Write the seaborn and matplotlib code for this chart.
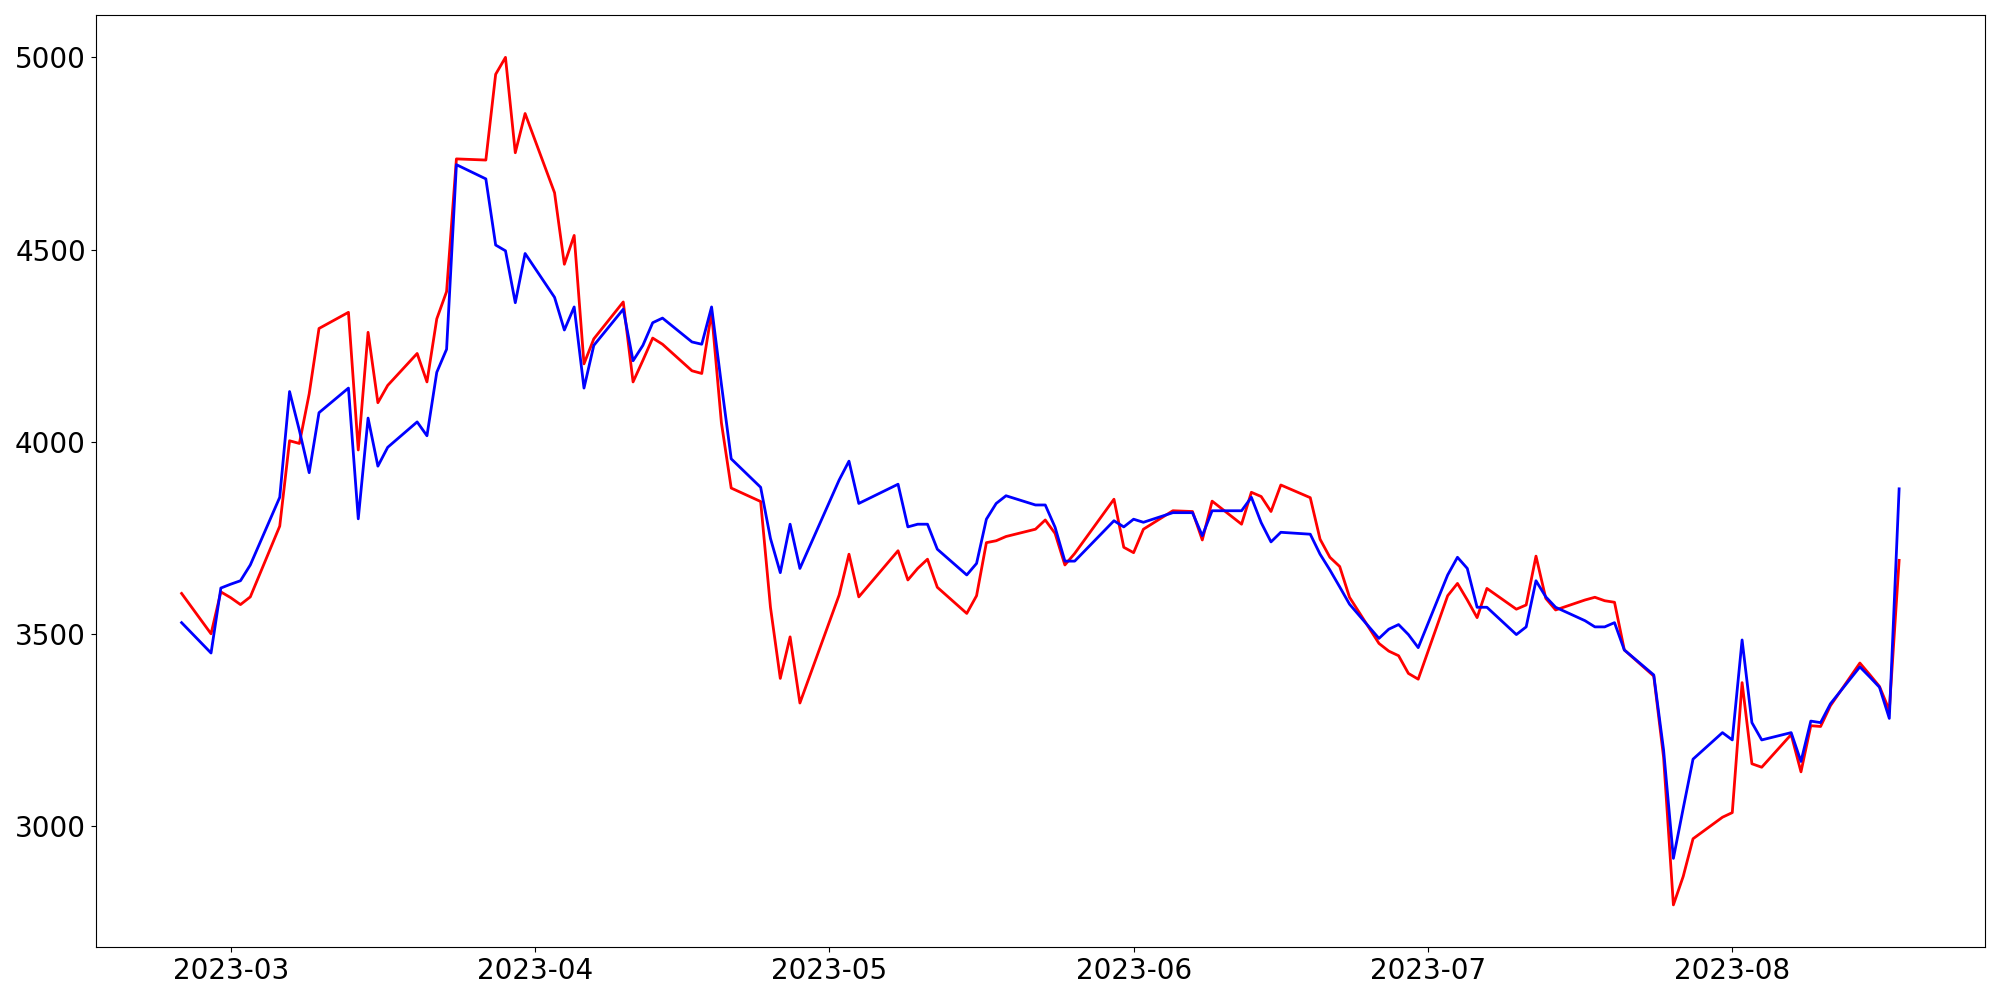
# Imports
import pandas as pd
import matplotlib
matplotlib.use('Agg')
import matplotlib.pyplot as plt
import seaborn as sns

# Data
dates = [
    '2023-02-24', '2023-02-27', '2023-02-28', '2023-03-01', '2023-03-02', '2023-03-03',
    '2023-03-06', '2023-03-07', '2023-03-08', '2023-03-09', '2023-03-10',
    '2023-03-13', '2023-03-14', '2023-03-15', '2023-03-16', '2023-03-17',
    '2023-03-20', '2023-03-21', '2023-03-22', '2023-03-23', '2023-03-24',
    '2023-03-27', '2023-03-28', '2023-03-29', '2023-03-30', '2023-03-31',
    '2023-04-03', '2023-04-04', '2023-04-05', '2023-04-06', '2023-04-07',
    '2023-04-10', '2023-04-11', '2023-04-12', '2023-04-13', '2023-04-14',
    '2023-04-17', '2023-04-18', '2023-04-19', '2023-04-20', '2023-04-21',
    '2023-04-24', '2023-04-25', '2023-04-26', '2023-04-27', '2023-04-28',
    '2023-05-02', '2023-05-03', '2023-05-04',
    '2023-05-08', '2023-05-09', '2023-05-10', '2023-05-11', '2023-05-12',
    '2023-05-15', '2023-05-16', '2023-05-17', '2023-05-18', '2023-05-19',
    '2023-05-22', '2023-05-23', '2023-05-24', '2023-05-25', '2023-05-26',
    '2023-05-30', '2023-05-31', '2023-06-01', '2023-06-02',
    '2023-06-05', '2023-06-06', '2023-06-07', '2023-06-08', '2023-06-09',
    '2023-06-12', '2023-06-13', '2023-06-14', '2023-06-15', '2023-06-16',
    '2023-06-19', '2023-06-20', '2023-06-21', '2023-06-22', '2023-06-23',
    '2023-06-26', '2023-06-27', '2023-06-28', '2023-06-29', '2023-06-30',
    '2023-07-03', '2023-07-04', '2023-07-05', '2023-07-06', '2023-07-07',
    '2023-07-10', '2023-07-11', '2023-07-12', '2023-07-13', '2023-07-14',
    '2023-07-17', '2023-07-18', '2023-07-19', '2023-07-20', '2023-07-21',
    '2023-07-24', '2023-07-25', '2023-07-26', '2023-07-27', '2023-07-28',
    '2023-07-31', '2023-08-01', '2023-08-02', '2023-08-03', '2023-08-04',
    '2023-08-07', '2023-08-08', '2023-08-09', '2023-08-10', '2023-08-11',
    '2023-08-14', '2023-08-15', '2023-08-16', '2023-08-17', '2023-08-18',
]

red_values = [
    3606, 3501, 3610, 3595, 3577, 3597,
    3781, 4003, 3996, 4125, 4295,
    4337, 3979, 4285, 4102, 4147,
    4230, 4156, 4320, 4391, 4736,
    4733, 4956, 5000, 4752, 4854,
    4648, 4462, 4537, 4203, 4268,
    4364, 4156, 4212, 4270, 4254,
    4185, 4178, 4337, 4050, 3880,
    3845, 3570, 3385, 3493, 3321,
    3602, 3708, 3597,
    3717, 3641, 3671, 3695, 3622,
    3554, 3600, 3738, 3743, 3754,
    3773, 3797, 3762, 3680, 3710,
    3851, 3726, 3712, 3773,
    3821, 3820, 3819, 3745, 3846,
    3786, 3869, 3858, 3819, 3888,
    3855, 3747, 3700, 3676, 3596,
    3476, 3456, 3444, 3398, 3383,
    3600, 3632, 3589, 3543, 3619,
    3565, 3576, 3703, 3593, 3563,
    3589, 3596, 3587, 3583, 3459,
    3391, 3180, 2796, 2870, 2968,
    3024, 3036, 3374, 3163, 3154,
    3239, 3142, 3262, 3260, 3314,
    3425, 3395, 3364, 3302, 3692,
]

blue_values = [
    3530, 3451, 3620, 3630, 3639, 3680,
    3856, 4131, 4030, 3920, 4076,
    4140, 3800, 4062, 3937, 3986,
    4052, 4016, 4181, 4241, 4721,
    4684, 4512, 4497, 4362, 4490,
    4376, 4291, 4351, 4140, 4251,
    4345, 4211, 4251, 4310, 4322,
    4260, 4254, 4351, 4150, 3956,
    3882, 3749, 3660, 3786, 3671,
    3901, 3950, 3840,
    3890, 3779, 3786, 3786, 3721,
    3654, 3684, 3799, 3840, 3860,
    3836, 3836, 3778, 3690, 3690,
    3795, 3779, 3799, 3791,
    3816, 3816, 3816, 3756, 3821,
    3821, 3856, 3790, 3740, 3765,
    3760, 3708, 3667, 3623, 3578,
    3489, 3513, 3525, 3499, 3465,
    3654, 3700, 3671, 3570, 3570,
    3499, 3519, 3639, 3597, 3570,
    3535, 3519, 3519, 3530, 3459,
    3394, 3199, 2917, 3047, 3175,
    3244, 3225, 3485, 3270, 3225,
    3244, 3169, 3274, 3270, 3319,
    3415, 3389, 3362, 3281, 3878,
]

df = pd.DataFrame({'Date': pd.to_datetime(dates), 'Red': red_values, 'Blue': blue_values})

# Plot both series
plt.figure(figsize=(20, 10))
sns.lineplot(x=df['Date'].values, y=df['Red'].values, color='red', linewidth=2)
sns.lineplot(x=df['Date'].values, y=df['Blue'].values, color='blue', linewidth=2)
plt.xticks(fontsize=20)
plt.yticks(fontsize=20)
plt.tight_layout()
plt.savefig('out.png', dpi=100)
